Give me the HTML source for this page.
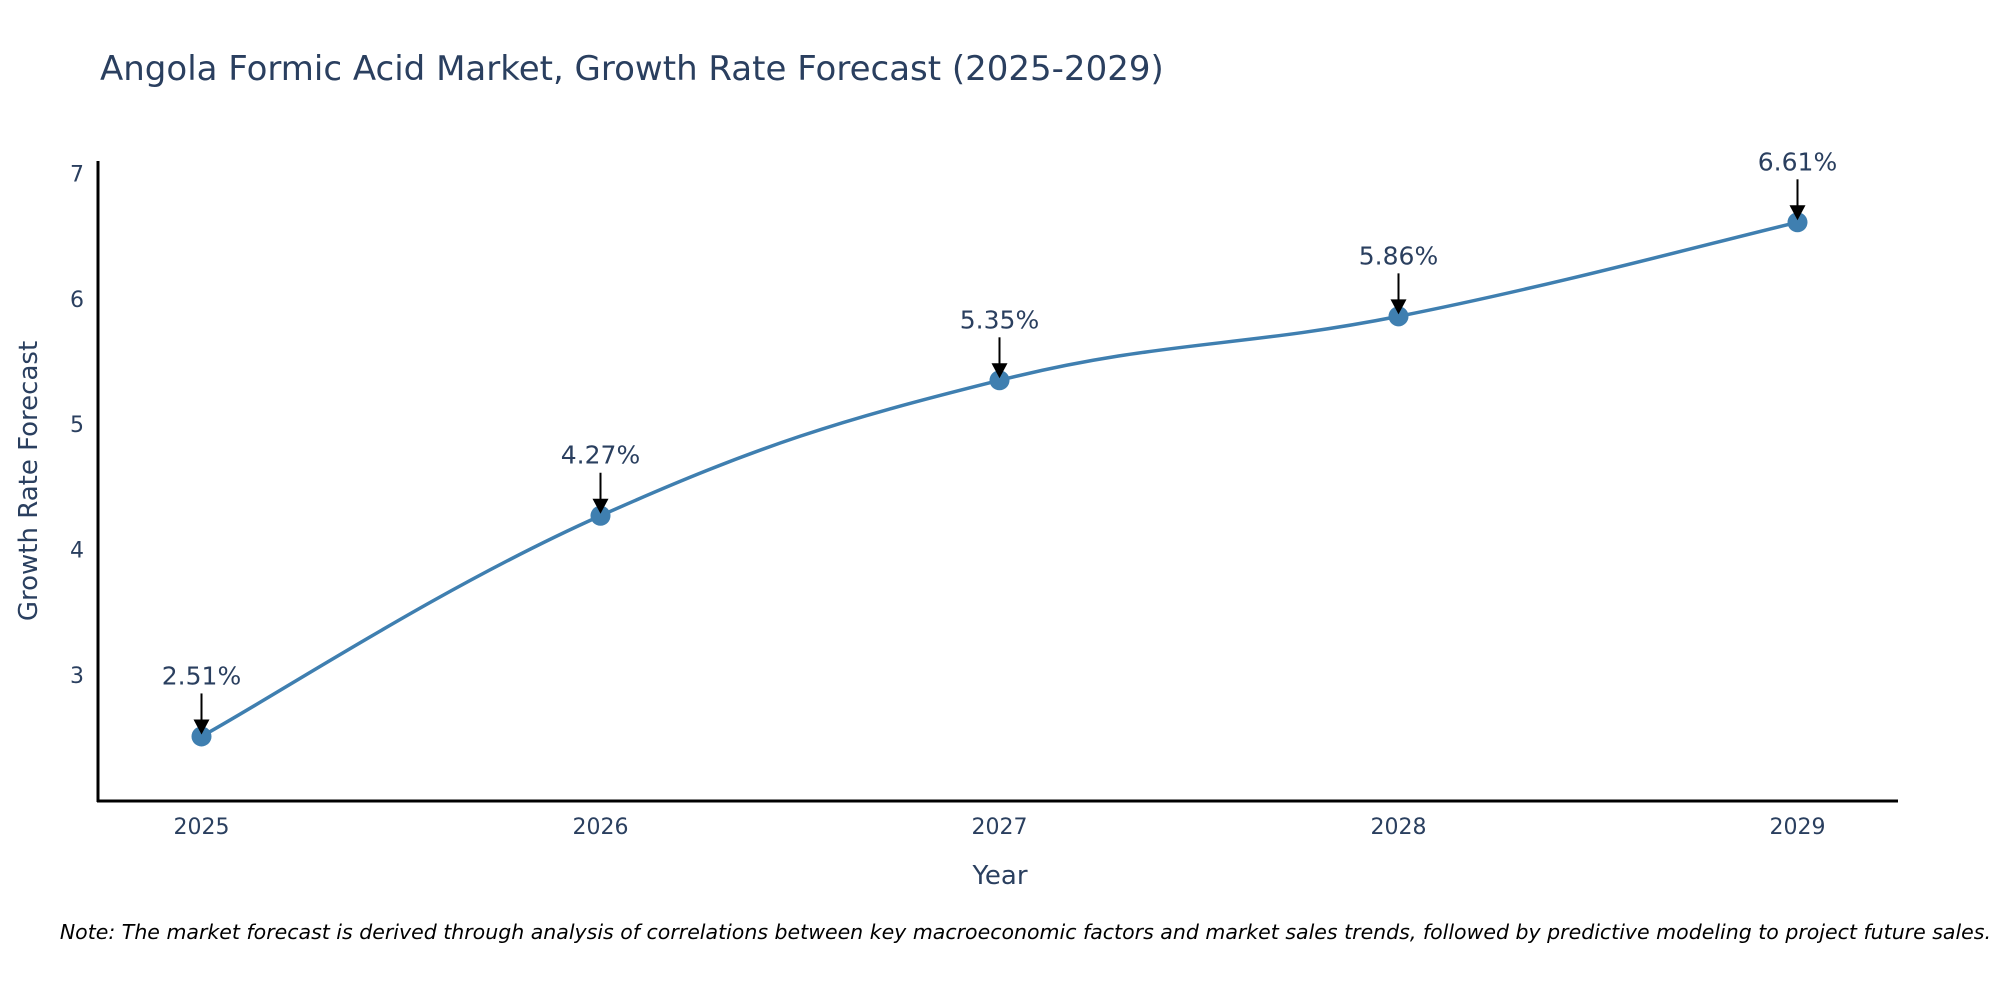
<!DOCTYPE html>
<html><head><meta charset="utf-8">
<style>
html,body{margin:0;padding:0;background:#fff;}
svg{display:block;font-family:"DejaVu Sans","Liberation Sans",sans-serif;}
</style></head>
<body>
<svg id="chart" width="2000" height="1000" viewBox="0 0 2000 1000" xmlns="http://www.w3.org/2000/svg">
<text x="100" y="80" font-size="34" fill="#2a3f5f">Angola Formic Acid Market, Growth Rate Forecast (2025-2029)</text>
<g id="yticks"></g>
<g id="xticks"></g>
<line x1="98" y1="161" x2="98" y2="802" stroke="#000" stroke-width="3"/>
<line x1="97" y1="801" x2="1898" y2="801" stroke="#000" stroke-width="3"/>
<text transform="translate(37,481) rotate(-90)" text-anchor="middle" font-size="26" fill="#2a3f5f">Growth Rate Forecast</text>
<text x="1000" y="884" text-anchor="middle" font-size="26" fill="#2a3f5f">Year</text>
<g id="series"></g>
<g id="annots"></g>
<text x="1991" y="939" text-anchor="end" font-size="20.5" font-style="italic" fill="#000">Note: The market forecast is derived through analysis of correlations between key macroeconomic factors and market sales trends, followed by predictive modeling to project future sales.</text>
</svg>
<script>
const years = [2025, 2026, 2027, 2028, 2029];
const growth = [2.51, 4.27, 5.35, 5.86, 6.61];
const labels = ["2.51%", "4.27%", "5.35%", "5.86%", "6.61%"];
const yTicks = [3, 4, 5, 6, 7];

const NS = "http://www.w3.org/2000/svg";
function xS(v){ return 201.5 + (v - 2025) * 399; }
function yS(v){ return 675 - (v - 3) * 125.4; }
function mk(tag, attrs, parent){
  const e = document.createElementNS(NS, tag);
  for (const k in attrs) e.setAttribute(k, attrs[k]);
  parent.appendChild(e);
  return e;
}
const yt = document.getElementById('yticks');
yTicks.forEach(t => {
  const e = mk('text', {x: 84, y: yS(t) + 8, 'text-anchor': 'end', 'font-size': 22, fill: '#2a3f5f'}, yt);
  
  
  e.textContent = t;
});
const xt = document.getElementById('xticks');
years.forEach(y => {
  const e = mk('text', {x: xS(y), y: 834, 'text-anchor': 'middle', 'font-size': 22, fill: '#2a3f5f'}, xt);
  
  
  e.textContent = y;
});
const pts = years.map((y, i) => [xS(y), yS(growth[i])]);
let d = 'M' + pts[0][0] + ',' + pts[0][1];
const s = 0.2;
for (let i = 0; i < pts.length - 1; i++) {
  const p0 = pts[Math.max(0, i - 1)], p1 = pts[i], p2 = pts[i + 1], p3 = pts[Math.min(pts.length - 1, i + 2)];
  const c1 = [p1[0] + (p2[0] - p0[0]) * s, p1[1] + (p2[1] - p0[1]) * s];
  const c2 = [p2[0] - (p3[0] - p1[0]) * s, p2[1] - (p3[1] - p1[1]) * s];
  d += ' C' + c1[0] + ',' + c1[1] + ' ' + c2[0] + ',' + c2[1] + ' ' + p2[0] + ',' + p2[1];
}
const sg = document.getElementById('series');
const line = mk('path', {d: d, fill: 'none', stroke: '#3f7fb0', 'stroke-width': 3.5}, sg);


const ag = document.getElementById('annots');
pts.forEach((p, i) => {
  const c = mk('circle', {cx: p[0], cy: p[1], r: 10, fill: '#3f7fb0'}, sg);
  
  
  const l = mk('line', {x1: p[0], y1: p[1] - 43, x2: p[0], y2: p[1] - 14, stroke: '#000', 'stroke-width': 2}, ag);
  
  
  const h = mk('polygon', {points: (p[0]-8)+','+(p[1]-17)+' '+(p[0]+8)+','+(p[1]-17)+' '+p[0]+','+(p[1]-2), fill: '#000'}, ag);
  
  
  const t = mk('text', {x: p[0], y: p[1] - 52, 'text-anchor': 'middle', 'font-size': 25, fill: '#2a3f5f'}, ag);
  
  
  t.textContent = labels[i];
});
</script>
</body></html>
